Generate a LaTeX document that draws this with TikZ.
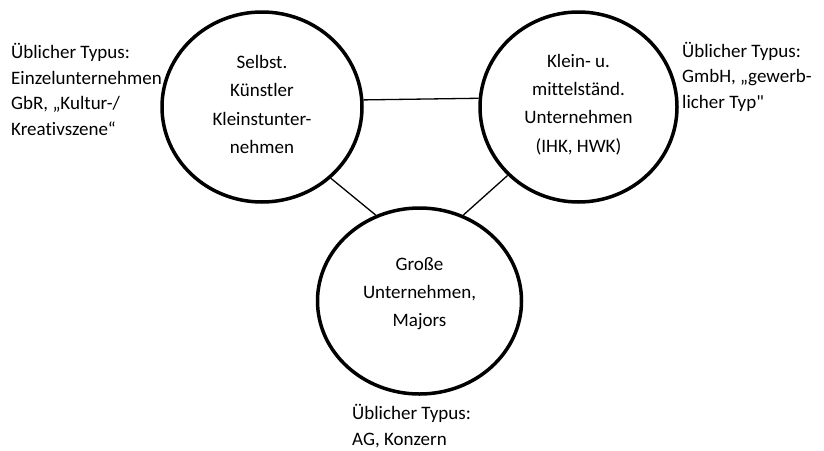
\documentclass[tikz,border=0pt]{standalone}
\usepackage{fontspec}
\newfontfamily\calfont{Carlito}[Ligatures=CommonOff]
\usetikzlibrary{shapes.geometric}
\begin{document}
\begin{tikzpicture}[x=1pt,y=-1pt,
  circ/.style={ellipse, draw, line width=3.5pt, inner sep=0pt},
  ctext/.style={align=center, font=\calfont\fontsize{19}{28.3}\selectfont, inner sep=0pt},
  stext/.style={align=left, font=\calfont\fontsize{19}{25.5}\selectfont, inner sep=0pt, anchor=west},
  link/.style={line width=1.3pt}]
\useasboundingbox (0,0) rectangle (824,450);
% side texts (drawn first so the circle lies over them)
\node[stext] (Lside) at (11,89.5) {Üblicher Typus:\\Einzelunternehmen\\GbR, „Kultur-/\\Kreativszene“};
\node[stext] (Rside) at (682,76.5) {Üblicher Typus:\\GmbH, „gewerb-\\licher Typ"};
\node[stext] (Bside) at (352,426) {Üblicher Typus:\\AG, Konzern};
% circles
\node[circ, minimum width=200pt, minimum height=190pt] (L) at (262,107) {};
\node[circ, minimum width=197pt, minimum height=190pt] (R) at (578.5,107) {};
\node[circ, minimum width=204pt, minimum height=186pt] (B) at (419.5,301) {};
% circle texts
\node[ctext] (Ltxt) at (262,104.5) {Selbst.\\Künstler\\Kleinstunter-\\nehmen};
\node[ctext] (Rtxt) at (578.5,104.5) {Klein- u.\\mittelständ.\\Unternehmen\\(IHK, HWK)};
\node[ctext] (Btxt) at (419.5,293.5) {Große\\Unternehmen,\\Majors};
% connectors
\draw[link] (L.4.6) -- (R.175.4);
\draw[link] (L.-46) -- (B.117.6);
\draw[link] (R.-136) -- (B.63.4);
\end{tikzpicture}
\end{document}
